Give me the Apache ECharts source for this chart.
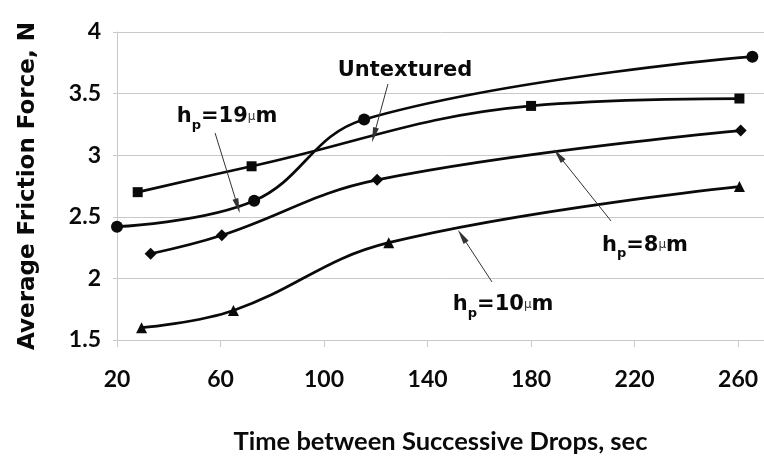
<!DOCTYPE html>
<html><head><meta charset="utf-8">
<script src="https://cdn.jsdelivr.net/npm/echarts@6/dist/echarts.min.js"></script>
<style>html,body{margin:0;padding:0;background:#fff}#c{width:764px;height:459px}</style>
</head><body><div id="c"></div>
<script>
// X values (sec) and Y values (N) for each marker series
const circleX   = [20, 73, 115.5, 265.5];
const circleY   = [2.42, 2.63, 3.29, 3.80];
const squareX   = [28, 72, 180, 260.5];
const squareY   = [2.70, 2.91, 3.40, 3.46];
const diamondX  = [33, 60.5, 120.5, 261];
const diamondY  = [2.20, 2.35, 2.80, 3.20];
const triangleX = [29.5, 65, 125, 260.5];
const triangleY = [1.60, 1.74, 2.29, 2.745];

// axis ticks
const xTicks = [20, 60, 100, 140, 180, 220, 260];
const yTicks = [1.5, 2, 2.5, 3, 3.5, 4];

// annotations (data coordinates)
const noteText = ['h_p=19μm', 'Untextured', 'h_p=8μm', 'h_p=10μm'];
const noteX    = [62.5, 131.3, 224, 169.2];
const noteY    = [3.31, 3.69, 2.27, 1.785];
const arrowFromX = [57.9, 124.7, 210.9, 164.9];
const arrowFromY = [3.18, 3.578, 2.466, 1.971];
const arrowToX   = [66.6, 119.3, 190.6, 153.3];
const arrowToY   = [2.588, 3.164, 3.0, 2.344];

const INK = '#0a0a0a';
const GRID = '#c9c9c9';
const NUMFONT = 'Lato';
const NOTEFONT = 'DejaVu Sans';

function zip(xs, ys) { return xs.map((x, i) => [x, ys[i]]); }
function richNote(t) {
  if (t.indexOf('h_p=') === 0) {
    const rest = t.slice(4).replace('μm', '');
    return '{b|h}{s|p}{b|=' + rest + '}{u|μ}{b|m}';
  }
  return '{b|' + t + '}';
}

const lineBase = {
  type: 'line', smooth: 0.4, silent: true,
  lineStyle: { color: INK, width: 2.7 },
  itemStyle: { color: INK },
  emphasis: { disabled: true },
  z: 3
};

const option = {
  animation: false,
  backgroundColor: '#fff',
  grid: { left: 117, top: 32, right: 0, bottom: 119, outerBoundsMode: 'none', containLabel: false },
  xAxis: {
    type: 'value', min: 20, max: 270, interval: 40,
    axisLine: { show: true, lineStyle: { color: GRID, width: 1 } },
    axisTick: { show: true, length: 7, lineStyle: { color: GRID } },
    splitLine: { show: false },
    axisLabel: {
      margin: 28, color: INK, fontFamily: NUMFONT, fontWeight: 'bold', fontSize: 23,
      showMaxLabel: false,
      formatter: v => xTicks.indexOf(v) >= 0 ? String(v) : ''
    },
    name: 'Time between Successive Drops, sec',
    nameLocation: 'middle', nameGap: 89,
    nameTextStyle: { color: INK, fontFamily: NUMFONT, fontWeight: 'bold', fontSize: 25.5 }
  },
  yAxis: {
    type: 'value', min: 1.5, max: 4, interval: 0.5,
    axisLine: { show: true, lineStyle: { color: GRID, width: 1 } },
    axisTick: { show: true, length: 4, lineStyle: { color: GRID } },
    splitLine: { show: true, lineStyle: { color: GRID, width: 1 } },
    axisLabel: {
      margin: 16, color: INK, fontFamily: NUMFONT, fontWeight: 'bold', fontSize: 23,
      formatter: v => yTicks.indexOf(v) >= 0 ? String(v) : ''
    },
    name: 'Average Friction Force, N',
    nameLocation: 'middle', nameRotate: 90, nameGap: 77,
    nameTextStyle: { color: INK, fontFamily: NOTEFONT, fontWeight: 'bold', fontSize: 23 }
  },
  series: [
    Object.assign({}, lineBase, { name: 'h_p=19μm', data: zip(circleX, circleY), symbol: 'circle', symbolSize: 12 }),
    Object.assign({}, lineBase, { name: 'Untextured', data: zip(squareX, squareY), symbol: 'rect', symbolSize: 10 }),
    Object.assign({}, lineBase, { name: 'h_p=8μm', data: zip(diamondX, diamondY), symbol: 'diamond', symbolSize: 12 }),
    Object.assign({}, lineBase, { name: 'h_p=10μm', data: zip(triangleX, triangleY), symbol: 'triangle', symbolSize: 11 }),
    {
      type: 'scatter', name: 'notes', silent: true, z: 5,
      symbol: 'circle', symbolSize: 0, itemStyle: { color: INK },
      data: noteText.map((t, i) => ({ value: [noteX[i], noteY[i]], name: t })),
      label: {
        show: true, position: 'inside', color: INK, opacity: 1,
        textBorderWidth: 0,
        formatter: p => richNote(p.name),
        rich: {
          b: { fontFamily: NOTEFONT, fontWeight: 'bold', fontSize: 21, color: INK, lineHeight: 30, verticalAlign: 'middle', textBorderWidth: 0 },
          s: { fontFamily: NOTEFONT, fontWeight: 'bold', fontSize: 13, color: INK, lineHeight: 30, verticalAlign: 'bottom', textBorderWidth: 0 },
          u: { fontFamily: NOTEFONT, fontWeight: 'normal', fontSize: 12, color: '#333', lineHeight: 30, verticalAlign: 'middle', textBorderWidth: 0 }
        }
      },
      markLine: {
        silent: true, animation: false,
        symbol: ['none', 'triangle'], symbolSize: [6, 15],
        lineStyle: { color: '#333', width: 1, type: 'solid' },
        itemStyle: { color: '#222' },
        label: { show: false },
        emphasis: { disabled: true },
        data: arrowFromX.map((x, i) => [
          { coord: [x, arrowFromY[i]] },
          { coord: [arrowToX[i], arrowToY[i]] }
        ])
      }
    }
  ]
};

const chart = echarts.init(document.getElementById('c'), null, { renderer: 'canvas' });
chart.setOption(option);
</script>
</body></html>
